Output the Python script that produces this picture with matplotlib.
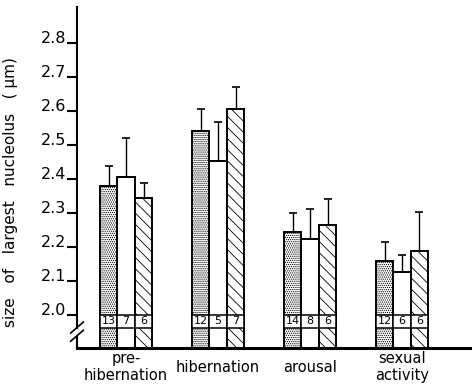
import matplotlib.pyplot as plt
import matplotlib.transforms as mtransforms
from matplotlib.patches import Rectangle
import numpy as np

plt.rcParams['font.family'] = ['DejaVu Sans']
plt.rcParams['hatch.linewidth'] = 0.6

groups = ['pre-\nhibernation', 'hibernation', 'arousal', 'sexual\nactivity']
stippled = [2.38, 2.542, 2.243, 2.159]
stippled_top = [2.438, 2.605, 2.299, 2.216]
open_bar = [2.405, 2.453, 2.224, 2.128]
open_top = [2.52, 2.567, 2.312, 2.176]
hatched = [2.343, 2.606, 2.265, 2.189]
hatched_top = [2.387, 2.672, 2.34, 2.302]
n_stippled = [13, 12, 14, 12]
n_open = [7, 5, 8, 6]
n_hatched = [6, 7, 6, 6]

ymin, ymax = 1.903, 2.906
w = 0.19
x = np.arange(len(groups))

fig = plt.figure(figsize=(4.75, 3.88), dpi=100)
ax = fig.add_axes([77/475, 1 - 348/388, 393/475, 341/388])

series = [
    (stippled, stippled_top, n_stippled, '........', -w),
    (open_bar, open_top, n_open, None, 0),
    (hatched, hatched_top, n_hatched, '\\\\\\', w),
]
for vals, tops, ns, hatch, off in series:
    vals = np.array(vals)
    tops = np.array(tops)
    ax.bar(x + off, vals - ymin, w, bottom=ymin, color='white',
           edgecolor='black', linewidth=1.4, hatch=hatch, zorder=2)
    ax.errorbar(x + off, vals, yerr=[np.zeros(len(vals)), tops - vals],
                fmt='none', ecolor='black', elinewidth=1.0, capsize=3.2,
                capthick=1.2, zorder=1)
    for xi, n in zip(x + off, ns):
        ax.add_patch(Rectangle((xi - w/2, 1.963), w, 2.0 - 1.963,
                               facecolor='white', edgecolor='black',
                               linewidth=1.1, zorder=3))
        ax.text(xi, 1.9815, str(n), ha='center', va='center',
                fontsize=8, zorder=4)

ax.set_xlim(-0.533, 3.739)
ax.set_ylim(ymin, ymax)

ax.spines['top'].set_visible(False)
ax.spines['right'].set_visible(False)
ax.spines['left'].set_linewidth(1.5)
ax.spines['bottom'].set_linewidth(2.2)

yt = [2.0, 2.1, 2.2, 2.3, 2.4, 2.5, 2.6, 2.7, 2.8]
ax.set_yticks(yt)
ax.set_yticklabels(['2.0', '2.1', '2.2', '2.3', '2.4', '2.5', '2.6', '2.7', '2.8'],
                   fontsize=11.5)
for lbl in ax.get_yticklabels():
    lbl.set_va('baseline')
ax.tick_params(axis='y', direction='out', length=7, width=1.5, pad=0.5)
ax.set_xticks([])

trans = mtransforms.blended_transform_factory(ax.transData, ax.transAxes)
for xi, g in zip(x, groups):
    ax.text(xi, -0.056, g, transform=trans, ha='center', va='center',
            multialignment='center', fontsize=10.5, linespacing=1.1,
            clip_on=False)

fig.text(11/475, 1 - 192/388, 'size   of   largest   nucleolus   ( \u03bcm)',
         rotation=90, ha='center', va='center', fontsize=11)

# axis break marks
ax.add_patch(Rectangle((-0.012, 0.034), 0.024, 0.022, transform=ax.transAxes,
                       facecolor='white', edgecolor='none', clip_on=False,
                       zorder=5))
for dy in (0.0, 0.024):
    ax.plot([-0.016, 0.016], [0.02 + dy, 0.052 + dy], transform=ax.transAxes,
            color='black', linewidth=1.2, clip_on=False, zorder=6)

fig.savefig('out.png', dpi=100)
